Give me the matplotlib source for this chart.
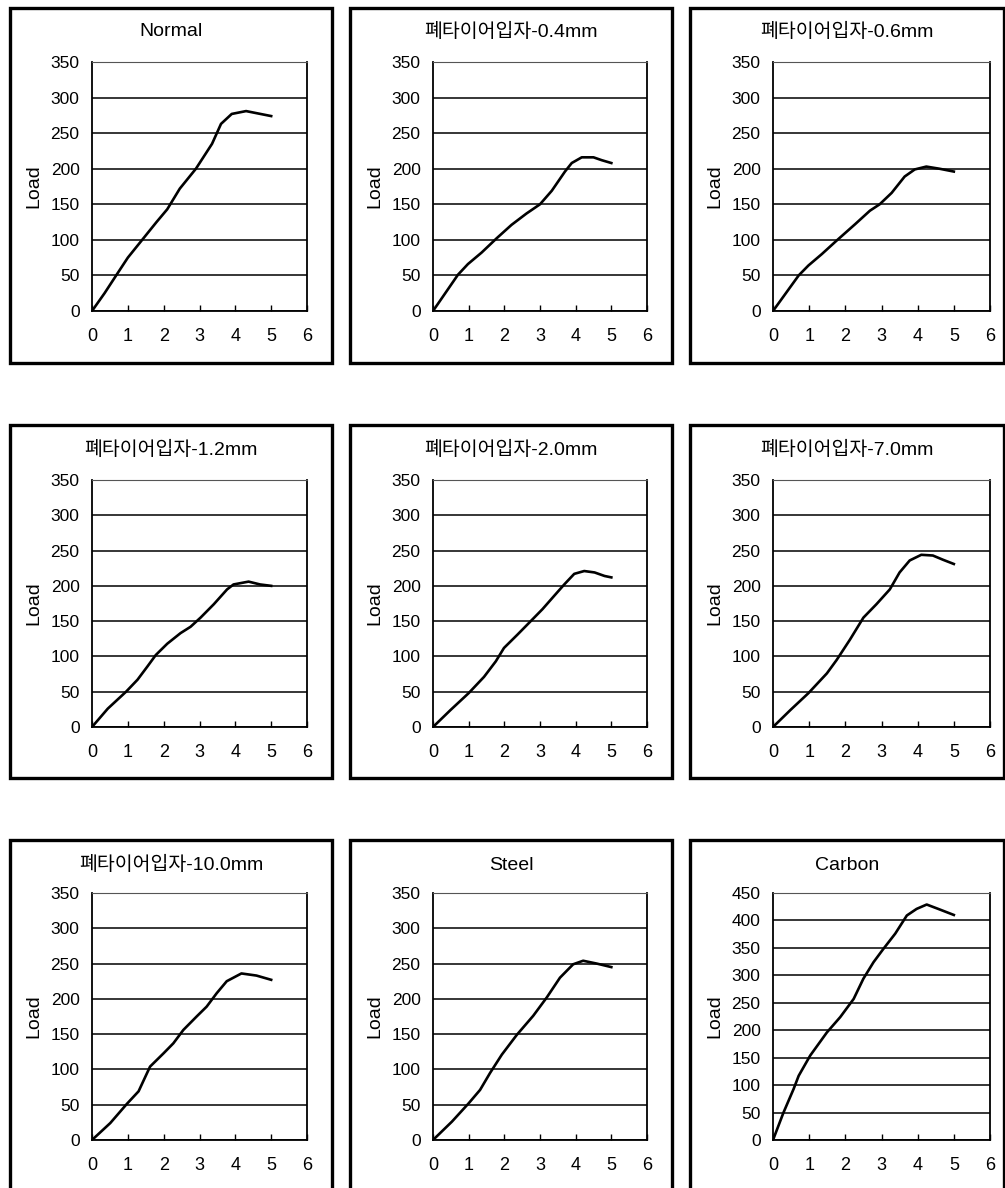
import matplotlib
matplotlib.use("Agg")
import matplotlib.pyplot as plt
from matplotlib.patches import Rectangle

plt.rcParams["font.family"] = ["Liberation Sans", "Noto Sans CJK KR", "DejaVu Sans"]

# --- Panel titles ---
titles = ["Normal", "폐타이어입자-0.4mm", "폐타이어입자-0.6mm",
          "폐타이어입자-1.2mm", "폐타이어입자-2.0mm", "폐타이어입자-7.0mm",
          "폐타이어입자-10.0mm", "Steel", "Carbon"]

# --- Load curves ---
normal_x = [0, 0.35, 0.7, 1.0, 1.4, 1.8, 2.1, 2.45, 2.9, 3.35, 3.6, 3.9, 4.3, 5.0]
normal_y = [0, 25, 52, 75, 100, 125, 143, 172, 200, 235, 263, 277, 281, 274]

mm04_x = [0, 0.7, 0.98, 1.36, 1.78, 2.2, 2.62, 3.0, 3.33, 3.7, 3.89, 4.17, 4.5, 4.73, 5.0]
mm04_y = [0, 51, 66, 82, 102, 121, 137, 150, 169, 196, 208, 216, 216, 212, 208]

mm06_x = [0, 0.71, 0.98, 1.35, 1.76, 2.27, 2.68, 2.95, 3.28, 3.64, 3.92, 4.24, 4.6, 5.0]
mm06_y = [0, 50, 64, 80, 99, 122, 141, 150, 166, 189, 199, 203, 200, 196]

mm12_x = [0, 0.44, 0.95, 1.27, 1.55, 1.78, 2.1, 2.47, 2.75, 3.03, 3.4, 3.77, 3.95, 4.37, 4.69, 5.0]
mm12_y = [0, 26, 50, 67, 86, 102, 118, 133, 142, 155, 174, 195, 202, 206, 202, 200]

mm20_x = [0, 0.49, 1.0, 1.43, 1.76, 1.99, 2.37, 2.74, 3.07, 3.4, 3.68, 3.96, 4.24, 4.53, 4.81, 5.0]
mm20_y = [0, 24, 48, 71, 93, 112, 131, 150, 167, 186, 202, 217, 221, 219, 214, 212]

mm70_x = [0, 0.48, 0.98, 1.49, 1.76, 2.13, 2.5, 2.86, 3.23, 3.5, 3.78, 4.1, 4.42, 4.7, 5.0]
mm70_y = [0, 24, 48, 76, 95, 124, 155, 174, 195, 219, 236, 244, 243, 237, 231]

mm100_x = [0, 0.51, 0.97, 1.3, 1.62, 2.0, 2.27, 2.55, 2.92, 3.2, 3.48, 3.76, 4.17, 4.59, 5.0]
mm100_y = [0, 24, 51, 69, 104, 123, 137, 156, 175, 189, 208, 225, 236, 233, 227]

steel_x = [0, 0.53, 1.0, 1.32, 1.6, 1.93, 2.35, 2.81, 3.19, 3.56, 3.93, 4.21, 4.59, 5.0]
steel_y = [0, 26, 52, 71, 95, 121, 149, 176, 202, 230, 249, 254, 250, 245]

carbon_x = [0, 0.29, 0.57, 0.71, 1.03, 1.49, 1.86, 2.23, 2.5, 2.78, 3.05, 3.38, 3.7, 3.97, 4.25, 4.57, 5.0]
carbon_y = [0, 50, 93, 117, 154, 196, 224, 257, 294, 324, 348, 376, 409, 421, 429, 421, 410]

curves_x = [normal_x, mm04_x, mm06_x, mm12_x, mm20_x, mm70_x, mm100_x, steel_x, carbon_x]
curves_y = [normal_y, mm04_y, mm06_y, mm12_y, mm20_y, mm70_y, mm100_y, steel_y, carbon_y]
y_max = [350, 350, 350, 350, 350, 350, 350, 350, 450]
x_ticks = [0, 1, 2, 3, 4, 5, 6]

# --- Layout in pixels ---
W, H = 1005, 1188
row_axes = [(62, 311), (480, 727), (893, 1140)]
row_frames = [(8, 363), (425, 778), (840, 1200)]
row_title = [32, 450, 865]
col_axes = [(92, 307), (433, 647), (773, 990)]
col_frames = [(10, 332), (350, 672), (690, 1004)]

fig = plt.figure(figsize=(W / 100, H / 100), dpi=100)

for i in range(9):
    r, c = divmod(i, 3)
    top, bot = row_axes[r]
    left, right = col_axes[c]
    ax = fig.add_axes([left / W, (H - bot) / H, (right - left) / W, (bot - top) / H])

    ax.plot(curves_x[i], curves_y[i], color="black", lw=1.9, solid_joinstyle="round")
    ax.set_xlim(0, 6)
    ax.set_ylim(0, y_max[i])
    ax.set_xticks(x_ticks)
    ax.set_yticks(range(0, y_max[i] + 1, 50))
    ax.yaxis.grid(True, color="black", lw=1.1)
    ax.tick_params(axis="x", direction="in", length=4, width=1, pad=12, labelsize=13)
    ax.tick_params(axis="y", length=0, pad=9, labelsize=12.5)
    for s in ["left", "bottom", "right"]:
        ax.spines[s].set_linewidth(1.3)
    ax.spines["top"].set_linewidth(0.8)
    ax.spines["top"].set_color("#555555")

    # y label and title
    fig.text((left - 58) / W, 1 - (top + bot) / 2 / H, "Load", rotation=90,
             ha="center", va="center", fontsize=14)
    fl, fr = col_frames[c]
    fig.text((fl + fr) / 2 / W, 1 - row_title[r] / H, titles[i],
             ha="center", va="center", fontsize=14)

    # black frame round each panel
    ft, fb = row_frames[r]
    fig.patches.append(Rectangle((fl / W, 1 - fb / H), (fr - fl) / W, (fb - ft) / H,
                                 transform=fig.transFigure, fill=False,
                                 edgecolor="black", lw=2.4, clip_on=False))

fig.savefig("out.png", dpi=100)
